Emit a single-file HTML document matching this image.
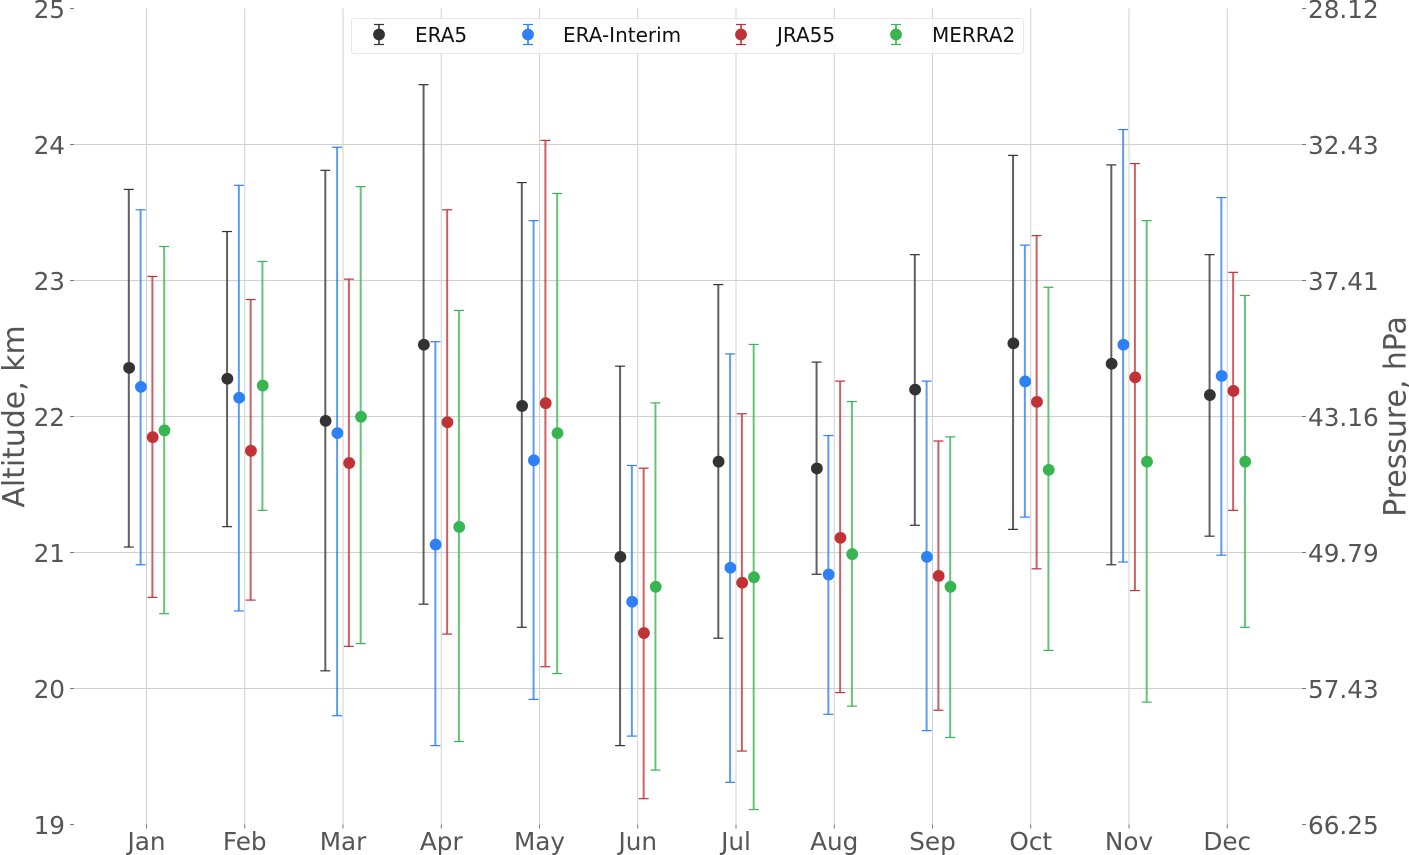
<!DOCTYPE html>
<html>
<head>
<meta charset="utf-8">
<title>Altitude and pressure by month</title>
<style>
html,body{margin:0;padding:0;background:#fff;}
svg{display:block;font-family:"DejaVu Sans","Liberation Sans",sans-serif;}
</style>
</head>
<body>
<svg id="chart" xmlns="http://www.w3.org/2000/svg" width="1409" height="855" viewBox="0 0 1409 855"></svg>
<script>
const months = ['Jan','Feb','Mar','Apr','May','Jun','Jul','Aug','Sep','Oct','Nov','Dec'];
const altitudeTicks = [19,20,21,22,23,24,25];
const pressureTickLabels = ['66.25','57.43','49.79','43.16','37.41','32.43','28.12'];
const seriesNames = ['ERA5','ERA-Interim','JRA55','MERRA2'];

const era5Mean  = [22.36,22.28,21.97,22.53,22.08,20.97,21.67,21.62,22.20,22.54,22.39,22.16];
const era5Upper = [23.67,23.36,23.81,24.44,23.72,22.37,22.97,22.40,23.19,23.92,23.85,23.19];
const era5Lower = [21.04,21.19,20.13,20.62,20.45,19.58,20.37,20.84,21.20,21.17,20.91,21.12];

const interimMean  = [22.22,22.14,21.88,21.06,21.68,20.64,20.89,20.84,20.97,22.26,22.53,22.30];
const interimUpper = [23.52,23.70,23.98,22.55,23.44,21.64,22.46,21.86,22.26,23.26,24.11,23.61];
const interimLower = [20.91,20.57,19.80,19.58,19.92,19.65,19.31,19.81,19.69,21.26,20.93,20.98];

const jra55Mean  = [21.85,21.75,21.66,21.96,22.10,20.41,20.78,21.11,20.83,22.11,22.29,22.19];
const jra55Upper = [23.03,22.86,23.01,23.52,24.03,21.62,22.02,22.26,21.82,23.33,23.86,23.06];
const jra55Lower = [20.67,20.65,20.31,20.40,20.16,19.19,19.54,19.97,19.84,20.88,20.72,21.31];

const merra2Mean  = [21.90,22.23,22.00,21.19,21.88,20.75,20.82,20.99,20.75,21.61,21.67,21.67];
const merra2Upper = [23.25,23.14,23.69,22.78,23.64,22.10,22.53,22.11,21.85,22.95,23.44,22.89];
const merra2Lower = [20.55,21.31,20.33,19.61,20.11,19.40,19.11,19.87,19.64,20.28,19.90,20.45];

const allMeans  = [era5Mean, interimMean, jra55Mean, merra2Mean];
const allUppers = [era5Upper, interimUpper, jra55Upper, merra2Upper];
const allLowers = [era5Lower, interimLower, jra55Lower, merra2Lower];

const seriesColors = ['#333333','#2e80f6','#c13236','#38b550'];
const seriesOffsets = [-0.18,-0.06,0.06,0.18];
const legendMarkerX = [379,528,741,896];
const legendTextX = [415,563,777,932];

const NS = 'http://www.w3.org/2000/svg';
const svg = document.getElementById('chart');
const plotLeft = 74, plotRight = 1302, plotTop = 8.5, plotBottom = 824.5;
const xFirst = 146.5, xStep = 98.25;

function xScale(i){ return xFirst + i * xStep; }
function yScale(v){ return plotBottom - (v - 19) * (plotBottom - plotTop) / 6; }
function make(tag, attrs, parent){
  const el = document.createElementNS(NS, tag);
  for (const k in attrs) el.setAttribute(k, attrs[k]);
  (parent || svg).appendChild(el);
  return el;
}

/* grid and tick marks */
const gridGroup = make('g', {});


months.forEach(function(m, i){
  const x = xScale(i);
  const v = make('line', {x1:x, x2:x, y1:plotTop, y2:plotBottom, stroke:'#d0d0d0', 'stroke-width':1}, gridGroup);
  
  
  const t = make('line', {x1:x, x2:x, y1:plotBottom, y2:plotBottom + 4, stroke:'#555', 'stroke-width':0.8}, gridGroup);
  
  
  const lab = make('text', {x:x, y:850, 'text-anchor':'middle', 'font-size':24.7, fill:'#555'});
  lab.textContent = m;
  
  
});
altitudeTicks.forEach(function(a, i){
  const y = yScale(a);
  if (a > 19 && a < 25) {
    const h = make('line', {x1:plotLeft, x2:plotRight, y1:y, y2:y, stroke:'#d0d0d0', 'stroke-width':1}, gridGroup);
    
    
  }
  const tl = make('line', {x1:plotLeft - 4, x2:plotLeft, y1:y, y2:y, stroke:'#555', 'stroke-width':0.8}, gridGroup);
  
  
  const tr = make('line', {x1:plotRight, x2:plotRight + 4, y1:y, y2:y, stroke:'#555', 'stroke-width':0.8}, gridGroup);
  
  
  const ll = make('text', {x:65, y:y + 9.5, 'text-anchor':'end', 'font-size':24.7, fill:'#555'});
  ll.textContent = a;
  
  
  const rl = make('text', {x:1308, y:y + 9.5, 'text-anchor':'start', 'font-size':24.7, fill:'#555'});
  rl.textContent = pressureTickLabels[i];
  
  
});

/* axis titles */
const leftTitle = make('text', {transform:'translate(24,416.5) rotate(-90)', 'text-anchor':'middle', 'font-size':29.9, fill:'#555'});
leftTitle.textContent = 'Altitude, km';


const rightTitle = make('text', {transform:'translate(1405.5,416.5) rotate(-90)', 'text-anchor':'middle', 'font-size':29.9, fill:'#555'});
rightTitle.textContent = 'Pressure, hPa';



/* error bars and points */
seriesNames.forEach(function(name, s){
  const key = name.toLowerCase();
  const g = make('g', {});
  
  
  months.forEach(function(m, i){
    const x = xScale(i + seriesOffsets[s]);
    const yU = yScale(allUppers[s][i]);
    const yL = yScale(allLowers[s][i]);
    const yM = yScale(allMeans[s][i]);
    const color = seriesColors[s];
    const bar = make('line', {x1:x, x2:x, y1:yU, y2:yL, stroke:color, 'stroke-width':2, 'stroke-opacity':0.78}, g);
    
    
    const capU = make('line', {x1:x - 5, x2:x + 5, y1:yU, y2:yU, stroke:color, 'stroke-width':1.2}, g);
    
    
    const capL = make('line', {x1:x - 5, x2:x + 5, y1:yL, y2:yL, stroke:color, 'stroke-width':1.2}, g);
    
    
    const pt = make('circle', {cx:x + 0.3, cy:yM + 0.3, r:5.9, fill:color}, g);
    
    
  });
});

/* legend */
const legend = make('g', {});


const legendBox = make('rect', {x:351.5, y:18.5, width:672, height:35, rx:3, ry:3, fill:'#fff', 'fill-opacity':0.8, stroke:'#e6e6e6', 'stroke-width':1}, legend);


seriesNames.forEach(function(name, s){
  const entry = make('g', {}, legend);
  
  
  const mx = legendMarkerX[s], c = seriesColors[s];
  make('line', {x1:mx, x2:mx, y1:24.5, y2:44.5, stroke:c, 'stroke-width':2, 'stroke-opacity':0.78}, entry);
  make('line', {x1:mx - 5, x2:mx + 5, y1:24.5, y2:24.5, stroke:c, 'stroke-width':1.2}, entry);
  make('line', {x1:mx - 5, x2:mx + 5, y1:44.5, y2:44.5, stroke:c, 'stroke-width':1.2}, entry);
  make('circle', {cx:mx, cy:34.5, r:5.9, fill:c}, entry);
  const t = make('text', {x:legendTextX[s], y:42, 'font-size':20, fill:'#111'}, entry);
  t.textContent = name;
});
</script>
</body>
</html>
